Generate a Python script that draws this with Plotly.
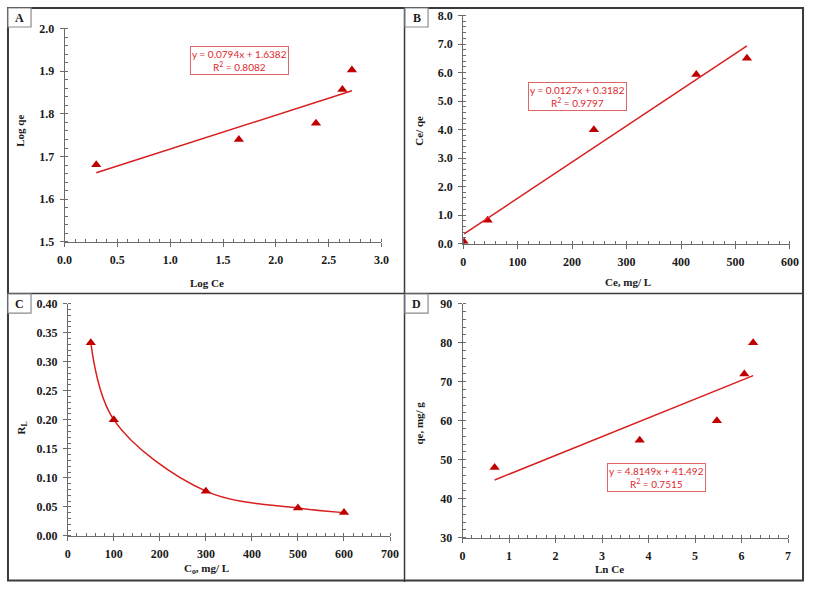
import plotly.graph_objects as go

W, H = 813, 589

# ---------------- data ----------------
# Panel A: Freundlich (log-log)
logCe = [0.30, 1.65, 2.38, 2.63, 2.72]
logqe = [1.681, 1.740, 1.778, 1.857, 1.903]
fitA = [0.0794, 1.6382]          # slope, intercept
# Panel B: Langmuir
Ce = [1.8, 45, 240, 428, 521]
Ce_qe = [0.05, 0.82, 3.99, 5.93, 6.50]
fitB = [0.0127, 0.3182]
# Panel C: separation factor
Co = [50, 100, 300, 500, 600]
RL = [0.333, 0.200, 0.077, 0.048, 0.040]
# Panel D: Temkin
lnCe = [0.69, 3.81, 5.47, 6.06, 6.25]
qe = [48, 55, 60, 72, 80]
fitD = [4.8149, 41.492]

eqA = ["y = 0.0794x + 1.6382", "R<sup>2</sup> = 0.8082"]
eqB = ["y = 0.0127x + 0.3182", "R<sup>2</sup> = 0.9797"]
eqD = ["y = 4.8149x + 41.492", "R<sup>2</sup> = 0.7515"]

MK = "#C00000"
LN = "#D81E1E"
TXT_RED = "#E0282E"
AX = "#6b6b6b"
SERIF = "Liberation Serif"


def fx(px):
    return px / W


def fy(py):
    return 1 - py / H


def trend(xs, fit):
    xa = [min(xs), max(xs)]
    return xa, [fit[0] * v + fit[1] for v in xa]


fig = go.Figure()

# A
fig.add_trace(go.Scatter(x=logCe, y=logqe, mode="markers", xaxis="x", yaxis="y",
                         marker=dict(symbol="triangle-up", size=9, color=MK)))
tx, ty = trend(logCe, fitA)
fig.add_trace(go.Scatter(x=tx, y=ty, mode="lines", xaxis="x", yaxis="y",
                         line=dict(color=LN, width=1.5)))
# B
fig.add_trace(go.Scatter(x=Ce, y=Ce_qe, mode="markers", xaxis="x2", yaxis="y2",
                         marker=dict(symbol="triangle-up", size=9, color=MK)))
tx, ty = trend(Ce, fitB)
fig.add_trace(go.Scatter(x=tx, y=ty, mode="lines", xaxis="x2", yaxis="y2",
                         line=dict(color=LN, width=1.5)))
# C
fig.add_trace(go.Scatter(x=Co, y=RL, mode="lines+markers", xaxis="x3", yaxis="y3",
                         line=dict(color=LN, width=1.5, shape="spline", smoothing=1),
                         marker=dict(symbol="triangle-up", size=9, color=MK)))
# D
fig.add_trace(go.Scatter(x=lnCe, y=qe, mode="markers", xaxis="x4", yaxis="y4",
                         marker=dict(symbol="triangle-up", size=9, color=MK)))
tx, ty = trend(lnCe, fitD)
fig.add_trace(go.Scatter(x=tx, y=ty, mode="lines", xaxis="x4", yaxis="y4",
                         line=dict(color=LN, width=1.5)))

tickfont = dict(family=SERIF, size=12, color="#1a1a1a", weight="bold")


def xaxis(px0, px1, rng, dtick, minor, anchor, fmt=None):
    d = dict(domain=[fx(px0), fx(px1)], range=rng, dtick=dtick, tick0=0,
             anchor=anchor, showgrid=False, zeroline=False, showline=True,
             linecolor=AX, linewidth=1, ticks="outside", ticklen=4, tickcolor=AX,
             tickfont=tickfont, ticklabelstandoff=3,
             minor=dict(dtick=minor, ticks="inside", ticklen=3, tickcolor=AX, showgrid=False))
    if fmt:
        d["tickformat"] = fmt
    return d


def yaxis(py0, py1, rng, dtick, minor, anchor, fmt=None):
    d = dict(domain=[fy(py1), fy(py0)], range=rng, dtick=dtick, tick0=0,
             anchor=anchor, showgrid=False, zeroline=False, showline=True,
             linecolor=AX, linewidth=1, ticks="outside", ticklen=4, tickcolor=AX,
             tickfont=tickfont, ticklabelstandoff=3,
             minor=dict(dtick=minor, ticks="inside", ticklen=3, tickcolor=AX, showgrid=False))
    if fmt:
        d["tickformat"] = fmt
    return d


fig.update_layout(
    autosize=True, margin=dict(l=0, r=0, t=0, b=0),
    paper_bgcolor="white", plot_bgcolor="white", showlegend=False,
    xaxis=xaxis(58.7, 382, [0, 3], 0.5, 0.1, "y", ".1f"),
    yaxis=yaxis(22, 240.7, [1.5, 2.0], 0.1, 0.02, "x", ".1f"),
    xaxis2=xaxis(465.3, 798.7, [0, 600], 100, 20, "y2"),
    yaxis2=yaxis(8.7, 242.3, [0, 8], 1, 0.2, "x2", ".1f"),
    xaxis3=xaxis(62, 390.7, [0, 700], 100, 20, "y3"),
    yaxis3=yaxis(304, 541.7, [0, 0.4], 0.05, 0.01, "x3", ".2f"),
    xaxis4=xaxis(464.7, 796.7, [0, 7], 1, 0.2, "y4"),
    yaxis4=yaxis(304, 543.7, [30, 90], 10, 2, "x4"),
)

shapes = []
BORDER = "#3a3a3a"
# outer frame and dividers
shapes.append(dict(type="rect", xref="paper", yref="paper", x0=fx(1), x1=fx(812),
                   y0=fy(587.5), y1=fy(1), line=dict(color=BORDER, width=2)))
shapes.append(dict(type="line", xref="paper", yref="paper", x0=fx(405.5), x1=fx(405.5),
                   y0=0, y1=1, line=dict(color=BORDER, width=1.5)))
shapes.append(dict(type="line", xref="paper", yref="paper", x0=0, x1=1,
                   y0=fy(293.5), y1=fy(293.5), line=dict(color=BORDER, width=1.5)))

annotations = []
# panel letter boxes
for letter, x0, y0 in [("A", 1, 1), ("B", 406, 1), ("C", 1, 294), ("D", 406, 294)]:
    shapes.append(dict(type="rect", xref="paper", yref="paper", x0=fx(x0), x1=fx(x0 + 23.5),
                       y0=fy(y0 + 19.5), y1=fy(y0), line=dict(color="#8c8c8c", width=1.2),
                       fillcolor="white"))
    annotations.append(dict(text=letter, xref="paper", yref="paper", x=fx(x0 + 12),
                            y=fy(y0 + 10), showarrow=False, xanchor="center", yanchor="middle",
                            font=dict(family=SERIF, size=12, color="#1a1a1a", weight="bold")))

# axis titles
title_font = dict(family=SERIF, size=11, color="#1a1a1a", weight="bold")
for txt, cx, cy, ang in [
    ("Log Ce", 204, 283, 0), ("Log qe", 13, 127, -90),
    ("Ce, mg/ L", 633, 282, 0), ("Ce/ qe", 420, 127, -90),
    ("C<sub>o</sub>, mg/ L", 203, 576, 0), ("R<sub>L</sub>", 15, 431, -90),
    ("Ln Ce", 615, 576, 0), ("qe, mg/ g", 420, 426, -90),
]:
    annotations.append(dict(text=txt, xref="paper", yref="paper", x=fx(cx), y=fy(cy),
                            showarrow=False, xanchor="center", yanchor="middle",
                            textangle=ang, font=title_font))

# equation boxes
for eq, cx, cy in [(eqA, 237, 54.5), (eqB, 582, 91.3), (eqD, 663, 482)]:
    annotations.append(dict(text="<br>".join(eq), xref="paper", yref="paper", x=fx(cx), y=fy(cy),
                            showarrow=False, xanchor="center", yanchor="middle", align="center",
                            bordercolor="#E06666", borderwidth=1, borderpad=1, bgcolor="white",
                            font=dict(family="Lato", size=10, color=TXT_RED)))

fig.update_layout(shapes=shapes, annotations=annotations)
fig.write_html("out.html",
               config={"displayModeBar": False},
               default_width=f"{W}px",
               default_height=f"{H}px; position:absolute; left:0; top:0",
               post_script="document.body.style.margin='0';document.body.style.overflow='hidden';")
